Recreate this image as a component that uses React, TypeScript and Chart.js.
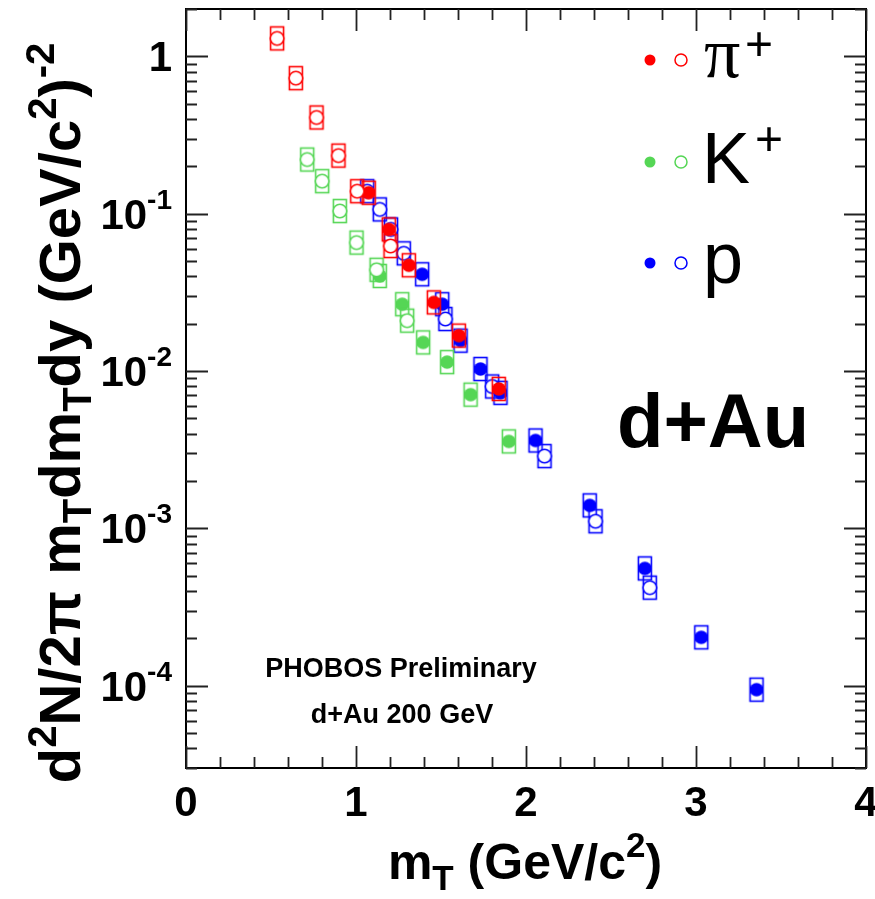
import React, { useEffect, useRef } from "react";
import { Chart, registerables } from "chart.js";

Chart.register(...registerables);

// ---- data (mT in GeV/c^2, yield) ----
const piOpenX = [0.536, 0.646, 0.768, 0.897, 1.007, 1.203];
const piOpenY = [1.30, 0.727, 0.409, 0.234, 0.139, 0.0623];
const piFilledX = [1.075, 1.193, 1.311, 1.458, 1.605, 1.84];
const piFilledY = [0.136, 0.0795, 0.047, 0.0273, 0.0168, 0.0077];

const kOpenX = [0.713, 0.801, 0.905, 1.003, 1.121, 1.301];
const kOpenY = [0.221, 0.161, 0.104, 0.0655, 0.044, 0.0209];
const kFilledX = [1.14, 1.272, 1.395, 1.536, 1.674, 1.899];
const kFilledY = [0.0402, 0.0266, 0.0152, 0.0114, 0.00708, 0.00357];

const pOpenX = [1.066, 1.14, 1.206, 1.281, 1.526, 1.801, 2.109, 2.409, 2.728];
const pOpenY = [0.139, 0.1065, 0.0795, 0.056, 0.0214, 0.00798, 0.00288, 0.00111, 0.00042];
const pFilledX = [1.389, 1.507, 1.615, 1.732, 1.85, 2.056, 2.375, 2.699, 3.031, 3.356];
const pFilledY = [0.0412, 0.0266, 0.0156, 0.0103, 0.00727, 0.00362, 0.0014, 0.000557, 0.000203, 0.0000944];

const X_MIN = 0;
const X_MAX = 4;
const Y_MIN = 3e-5;
const Y_MAX = 2;
const X_TICK_LABELS = ["0", "1", "2", "3", "4"];
const Y_DECADES = [0, -1, -2, -3, -4];

const RED = "#ff0000";
const GREEN = "#55d655";
const BLUE = "#0000ff";

const SANS = '"Liberation Sans", Arial, sans-serif';

function makeMarker(color: string, filled: boolean) {
  const c = document.createElement("canvas");
  c.width = 22;
  c.height = 30;
  const g = c.getContext("2d")!;
  g.strokeStyle = color;
  g.lineWidth = 1.6;
  g.strokeRect(4.5, 3.5, 13, 23);
  g.beginPath();
  g.arc(11, 15, 6.8, 0, Math.PI * 2);
  if (filled) {
    g.fillStyle = color;
    g.fill();
  } else {
    g.fillStyle = "#ffffff";
    g.fill();
    g.stroke();
  }
  return c;
}

function pts(xs: number[], ys: number[]) {
  return xs.map((x, i) => ({ x, y: ys[i] }));
}

type Seg = { t: string; f: string; dy: number };

function drawSegs(ctx: CanvasRenderingContext2D, segs: Seg[], x: number, y: number, align: string) {
  let w = 0;
  for (const s of segs) {
    ctx.font = s.f;
    w += ctx.measureText(s.t).width;
  }
  let cx = align === "center" ? x - w / 2 : align === "right" ? x - w : x;
  ctx.textAlign = "left";
  ctx.textBaseline = "alphabetic";
  for (const s of segs) {
    ctx.font = s.f;
    ctx.fillText(s.t, cx, y + s.dy);
    cx += ctx.measureText(s.t).width;
  }
}

const decorPlugin = {
  id: "decor",
  afterDraw(chart: any) {
    const { ctx, chartArea, scales } = chart;
    const { left, right, top, bottom } = chartArea;
    const xs = scales.x;
    const ys = scales.y;
    ctx.save();
    // frame
    ctx.strokeStyle = "#000";
    ctx.lineWidth = 2;
    ctx.strokeRect(left, top, right - left, bottom - top);
    // x ticks
    ctx.strokeStyle = "#222";
    ctx.lineWidth = 1.8;
    ctx.beginPath();
    for (let i = 0; i <= 20; i++) {
      const v = i * 0.2;
      const px = Math.round(xs.getPixelForValue(v)) + 0.5;
      const len = i % 5 === 0 ? 22 : 11;
      ctx.moveTo(px, bottom);
      ctx.lineTo(px, bottom - len);
      ctx.moveTo(px, top);
      ctx.lineTo(px, top + len);
    }
    // y ticks
    for (let e = -5; e <= 0; e++) {
      for (let m = 1; m <= 9; m++) {
        const v = m * Math.pow(10, e);
        if (v < Y_MIN * 0.999 || v > Y_MAX * 1.001) continue;
        const py = Math.round(ys.getPixelForValue(v)) + 0.5;
        const len = m === 1 ? 22 : 11;
        ctx.moveTo(left, py);
        ctx.lineTo(left + len, py);
        ctx.moveTo(right, py);
        ctx.lineTo(right - len, py);
      }
    }
    ctx.stroke();

    ctx.fillStyle = "#000";
    // x tick labels
    X_TICK_LABELS.forEach((lab, i) => {
      const px = xs.getPixelForValue(i);
      drawSegs(ctx, [{ t: lab, f: `bold 42px ${SANS}`, dy: 0 }], px, 816, "center");
    });
    // y tick labels
    Y_DECADES.forEach((e) => {
      const py = ys.getPixelForValue(Math.pow(10, e));
      const segs: Seg[] =
        e === 0
          ? [{ t: "1", f: `bold 42px ${SANS}`, dy: 0 }]
          : [
              { t: "10", f: `bold 42px ${SANS}`, dy: 0 },
              { t: "-" + String(-e), f: `bold 28px ${SANS}`, dy: -20 },
            ];
      drawSegs(ctx, segs, 172, py + 15, "right");
    });

    // x title
    const big = `bold 50px ${SANS}`;
    const sm = `bold 35px ${SANS}`;
    drawSegs(
      ctx,
      [
        { t: "m", f: big, dy: 0 },
        { t: "T", f: sm, dy: 11 },
        { t: " (GeV/c", f: big, dy: 0 },
        { t: "2", f: sm, dy: -22 },
        { t: ")", f: big, dy: 0 },
      ],
      525,
      879,
      "center"
    );

    // y title
    ctx.save();
    ctx.translate(80, 413);
    ctx.rotate(-Math.PI / 2);
    const yb = `bold 58px ${SANS}`;
    const ysm = `bold 40px ${SANS}`;
    drawSegs(
      ctx,
      [
        { t: "d", f: yb, dy: 0 },
        { t: "2", f: ysm, dy: -24 },
        { t: "N/2\u03c0 m", f: yb, dy: 0 },
        { t: "T", f: ysm, dy: 11 },
        { t: "dm", f: yb, dy: 0 },
        { t: "T", f: ysm, dy: 11 },
        { t: "dy (GeV/c", f: yb, dy: 0 },
        { t: "2", f: ysm, dy: -24 },
        { t: ")", f: yb, dy: 0 },
        { t: "-2", f: ysm, dy: -26 },
      ],
      0,
      0,
      "center"
    );
    ctx.restore();

    // annotations
    drawSegs(ctx, [{ t: "d+Au", f: `bold 76px ${SANS}`, dy: 0 }], 617, 447, "left");
    drawSegs(ctx, [{ t: "PHOBOS Preliminary", f: `bold 27px ${SANS}`, dy: 0 }], 401, 677, "center");
    drawSegs(ctx, [{ t: "d+Au 200 GeV", f: `bold 27px ${SANS}`, dy: 0 }], 402, 723, "center");

    // legend
    const rows = [
      { c: RED, y: 60 },
      { c: GREEN, y: 162 },
      { c: BLUE, y: 263 },
    ];
    rows.forEach((r) => {
      ctx.beginPath();
      ctx.arc(650, r.y, 5.5, 0, Math.PI * 2);
      ctx.fillStyle = r.c;
      ctx.fill();
      ctx.beginPath();
      ctx.arc(681, r.y, 6, 0, Math.PI * 2);
      ctx.strokeStyle = r.c;
      ctx.lineWidth = 1.5;
      ctx.stroke();
    });
    ctx.fillStyle = "#000";
    drawSegs(ctx, [{ t: "\u03c0", f: `72px "Liberation Serif", serif`, dy: 0 }], 704, 77, "left");
    drawSegs(ctx, [{ t: "+", f: `48px ${SANS}`, dy: 0 }], 745, 60, "left");
    drawSegs(ctx, [{ t: "K", f: `72px ${SANS}`, dy: 0 }], 702, 183, "left");
    drawSegs(ctx, [{ t: "+", f: `48px ${SANS}`, dy: 0 }], 755, 155, "left");
    drawSegs(ctx, [{ t: "p", f: `72px ${SANS}`, dy: 0 }], 703, 283, "left");

    ctx.restore();
  },
};

export default function App() {
  const ref = useRef<HTMLCanvasElement | null>(null);
  useEffect(() => {
    const canvas = ref.current;
    if (!canvas) return;
    const mk = (label: string, xs: number[], ys: number[], color: string, filled: boolean) => ({
      label,
      data: pts(xs, ys),
      pointStyle: makeMarker(color, filled),
      pointRadius: 6,
      borderColor: color,
      backgroundColor: color,
      showLine: false,
    });
    const chart = new Chart(canvas, {
      type: "scatter",
      data: {
        datasets: [
          mk("pi+ open", piOpenX, piOpenY, RED, false),
          mk("pi+ filled", piFilledX, piFilledY, RED, true),
          mk("K+ open", kOpenX, kOpenY, GREEN, false),
          mk("K+ filled", kFilledX, kFilledY, GREEN, true),
          mk("p open", pOpenX, pOpenY, BLUE, false),
          mk("p filled", pFilledX, pFilledY, BLUE, true),
        ] as any,
      },
      options: {
        animation: false,
        responsive: false,
        layout: { padding: { left: 186, right: 9, top: 9, bottom: 131 } },
        plugins: { legend: { display: false }, tooltip: { enabled: false } },
        scales: {
          x: { type: "linear", min: X_MIN, max: X_MAX, display: false },
          y: { type: "logarithmic", min: Y_MIN, max: Y_MAX, display: false },
        },
      },
      plugins: [decorPlugin],
    });
    return () => chart.destroy();
  }, []);
  return (
    <div style={{ position: "fixed", left: 0, top: 0, width: 875, height: 899, background: "#fff" }}>
      <canvas ref={ref} width={875} height={899} style={{ display: "block", width: 875, height: 899 }} />
    </div>
  );
}
